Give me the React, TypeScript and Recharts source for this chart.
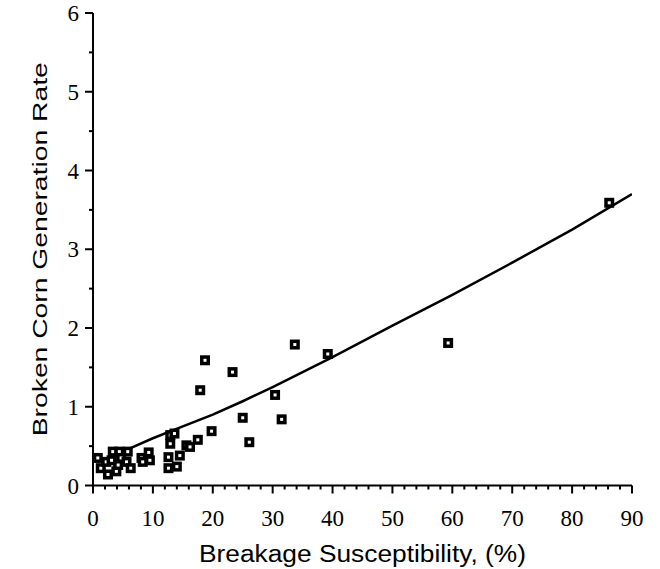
import React from 'react';
import { ScatterChart, Scatter, XAxis, YAxis } from 'recharts';

// Measured samples: breakage susceptibility (%) vs broken corn generation rate
const susceptibility = [
  0.8, 1.3, 2.2, 2.5, 3.1, 3.3, 3.9, 4.2, 4.4, 4.7, 5.6, 5.8, 6.3, 8.1, 8.3, 9.3, 9.5,
  12.6, 12.6, 12.9, 12.9, 13.6, 14.0, 14.5, 15.6, 16.2, 17.5, 19.8,
  17.9, 18.7, 23.3, 25.0, 26.1, 30.4, 31.5, 33.7, 39.2, 59.3, 86.2,
];
const generationRate = [
  0.35, 0.22, 0.30, 0.14, 0.32, 0.43, 0.18, 0.26, 0.43, 0.35, 0.30, 0.43, 0.22, 0.35, 0.30, 0.42, 0.32,
  0.22, 0.36, 0.53, 0.64, 0.66, 0.24, 0.38, 0.51, 0.49, 0.58, 0.69,
  1.21, 1.59, 1.44, 0.86, 0.55, 1.15, 0.84, 1.79, 1.67, 1.81, 3.59,
];

// Fitted curve
const fitX = [5.5, 10, 15, 20, 25, 30, 35, 40, 50, 60, 70, 80, 90];
const fitY = [0.45, 0.6, 0.75, 0.9, 1.07, 1.25, 1.44, 1.63, 2.03, 2.42, 2.83, 3.25, 3.7];

const xMajorTicks = [0, 10, 20, 30, 40, 50, 60, 70, 80, 90];
const yMajorTicks = [0, 1, 2, 3, 4, 5, 6];
const xMinorStep = 2;
const yMinorStep = 0.5;

const samples = susceptibility.map((x, i) => ({ x, y: generationRate[i] }));
const fitLine = fitX.map((x, i) => ({ x, y: fitY[i] }));

const xTicks: number[] = [];
for (let v = 0; v <= 90 + 1e-9; v += xMinorStep) xTicks.push(Math.round(v * 100) / 100);
const yTicks: number[] = [];
for (let v = 0; v <= 6 + 1e-9; v += yMinorStep) yTicks.push(Math.round(v * 100) / 100);

const tickFont = '"Liberation Serif", "Times New Roman", serif';
const titleFont = '"Liberation Sans", Arial, Helvetica, sans-serif';

const XTick = (props: any) => {
  const { x, y, payload } = props;
  const major = xMajorTicks.includes(payload.value);
  return (
    <g>
      <line x1={x} x2={x} y1={y} y2={y + (major ? 8 : 4)} stroke="#000" strokeWidth={2} />
      {major && (
        <text x={x} y={y + 40} textAnchor="middle" fontFamily={tickFont} fontSize={23} fill="#000">
          {payload.value}
        </text>
      )}
    </g>
  );
};

const YTick = (props: any) => {
  const { x, y, payload } = props;
  const major = yMajorTicks.includes(payload.value);
  return (
    <g>
      <line x1={x - (major ? 8 : 4)} x2={x} y1={y} y2={y} stroke="#000" strokeWidth={2} />
      {major && (
        <text x={x - 14} y={y + 8} textAnchor="end" fontFamily={tickFont} fontSize={23} fill="#000">
          {payload.value}
        </text>
      )}
    </g>
  );
};

const XTitle = (props: any) => {
  const vb = props.viewBox;
  const cx = vb.x + vb.width / 2;
  return (
    <text
      x={cx}
      y={vb.y + 76}
      textAnchor="middle"
      fontFamily={titleFont}
      fontSize={23}
      fill="#000"
      textLength={327}
      lengthAdjust="spacingAndGlyphs"
    >
      Breakage Susceptibility, (%)
    </text>
  );
};

const YTitle = (props: any) => {
  const vb = props.viewBox;
  const cx = vb.x + 47;
  const cy = vb.y + vb.height / 2;
  return (
    <text
      x={cx}
      y={cy}
      transform={`rotate(-90 ${cx} ${cy})`}
      textAnchor="middle"
      fontFamily={titleFont}
      fontSize={21}
      fill="#000"
      textLength={374}
      lengthAdjust="spacingAndGlyphs"
    >
      Broken Corn Generation Rate
    </text>
  );
};

const SquareMarker = (props: any) => {
  const { cx, cy } = props;
  if (cx == null || cy == null) return <g />;
  return (
    <rect x={cx - 3.25} y={cy - 3.25} width={6.5} height={6.5} fill="#fff" stroke="#000" strokeWidth={3.5} />
  );
};

const NoMarker = () => <g />;

export default function App() {
  return (
    <div style={{ position: 'absolute', left: 0, top: 0, background: '#fff' }}>
      <ScatterChart width={660} height={569} margin={{ top: 13, right: 28, bottom: 0, left: 0 }}>
        <XAxis
          type="number"
          dataKey="x"
          domain={[0, 90]}
          ticks={xTicks}
          interval={0}
          tickSize={0}
          tickMargin={0}
          tick={<XTick />}
          axisLine={{ stroke: '#000', strokeWidth: 2 }}
          height={83.5}
          allowDataOverflow
          label={<XTitle />}
        />
        <YAxis
          type="number"
          dataKey="y"
          domain={[0, 6]}
          ticks={yTicks}
          interval={0}
          tickSize={0}
          tickMargin={0}
          tick={<YTick />}
          axisLine={{ stroke: '#000', strokeWidth: 2 }}
          width={93}
          allowDataOverflow
          label={<YTitle />}
        />
        <Scatter
          data={fitLine}
          line={{ stroke: '#000', strokeWidth: 2.5 }}
          shape={<NoMarker />}
          isAnimationActive={false}
        />
        <Scatter data={samples} shape={<SquareMarker />} isAnimationActive={false} />
      </ScatterChart>
    </div>
  );
}
